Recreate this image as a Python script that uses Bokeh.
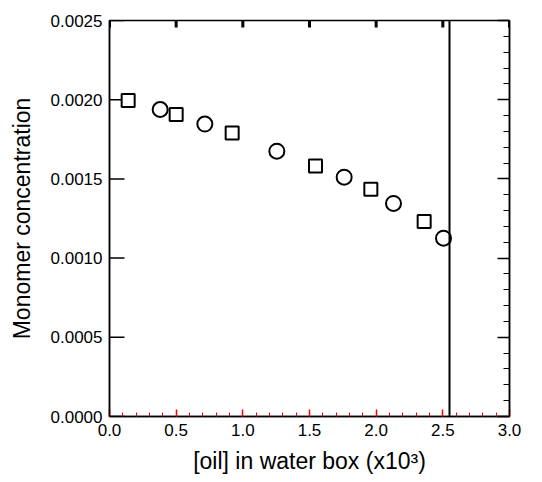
import numpy as np
from bokeh.plotting import figure
from bokeh.models import LinearAxis, Span, SingleIntervalTicker, PrintfTickFormatter, Range1d
from bokeh.embed import file_html
from bokeh.resources import INLINE

# data
square_x = [0.14, 0.50, 0.92, 1.545, 1.96, 2.36]
square_y = [0.001995, 0.001907, 0.001789, 0.001582, 0.001435, 0.001231]
circle_x = [0.38, 0.715, 1.255, 1.76, 2.13, 2.505]
circle_y = [0.001938, 0.001846, 0.001675, 0.001511, 0.001345, 0.001126]
vline_x = 2.55

x_min, x_max, x_major, x_minor = 0.0, 3.0, 0.5, 0.1
y_min, y_max, y_major, y_minor = 0.0, 0.0025, 0.0005, 0.0001

FONT = "Liberation Sans"
FW, FH = 400, 396

p = figure(output_backend="svg", toolbar_location=None,
           frame_width=FW, frame_height=FH,
           x_range=Range1d(x_min, x_max), y_range=Range1d(y_min, y_max),
           min_border_left=109, min_border_top=20, min_border_right=25, min_border_bottom=50,
           x_axis_label="[oil] in water box (x10\u00b3)", y_axis_label="Monomer concentration")
p.xgrid.grid_line_color = None
p.ygrid.grid_line_color = None
p.outline_line_color = "black"
p.outline_line_width = 1.5

dx = (x_max - x_min) / FW
dy = (y_max - y_min) / FH
xt_major = np.arange(x_min, x_max + 1e-9, x_major)
yt_major = np.arange(y_min, y_max + 1e-12, y_major)
# diagnostic: left 15px black, top 7px black width 3
p.segment(x_min, yt_major, x_min + 15 * dx, yt_major, line_color="black", line_width=1.5)
p.segment(xt_major, y_max, xt_major, y_max - 7 * dy, line_color="black", line_width=3)

p.scatter(square_x, square_y, marker="square", size=13, fill_color="white",
          line_color="black", line_width=2)
p.scatter(circle_x, circle_y, marker="circle", size=15, fill_color="white",
          line_color="black", line_width=2)
p.add_layout(Span(location=vline_x, dimension="height", line_color="black", line_width=2))

p.add_layout(LinearAxis(major_label_text_alpha=0, major_label_standoff=0,
                        major_label_text_font_size="1px"), "right")

for ax in p.xaxis:
    ax.ticker = SingleIntervalTicker(interval=x_major, num_minor_ticks=5)
    ax.formatter = PrintfTickFormatter(format="%.1f")
for ax in p.yaxis:
    ax.ticker = SingleIntervalTicker(interval=y_major, num_minor_ticks=5)
    ax.formatter = PrintfTickFormatter(format="%.4f")

for ax in p.xaxis + p.yaxis:
    ax.axis_line_color = "black"
    ax.axis_line_width = 1.5
    ax.major_tick_out = 0
    ax.minor_tick_out = 0
    ax.axis_label_text_font = FONT
    ax.axis_label_text_font_size = "23px"
    ax.axis_label_text_font_style = "normal"
    ax.axis_label_text_color = "black"

# diagnostic: bottom native red 7px, right native black 12px
p.below[0].major_tick_in = 7
p.below[0].minor_tick_in = 4
p.below[0].major_tick_line_color = "red"
p.below[0].minor_tick_line_color = "red"
p.below[0].major_tick_line_width = 1.5
p.right[0].major_tick_in = 12
p.right[0].minor_tick_in = 6
p.right[0].major_tick_line_color = "black"
p.right[0].major_tick_line_width = 1.5
p.left[0].major_tick_in = 0
p.left[0].minor_tick_in = 0

for ax in (p.below[0], p.left[0]):
    ax.major_label_text_font = FONT
    ax.major_label_text_font_size = "17px"
    ax.major_label_text_color = "black"
    ax.major_label_standoff = 7

p.below[0].axis_label_standoff = 9
p.left[0].axis_label_standoff = 13

open("out.html", "w").write(file_html(p, INLINE))
